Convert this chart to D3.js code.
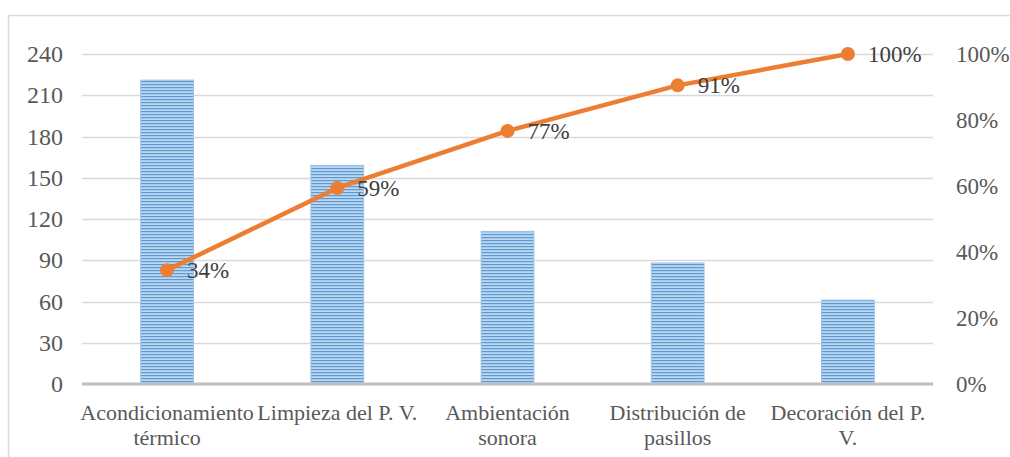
<!DOCTYPE html>
<html>
<head>
<meta charset="utf-8">
<script src="https://cdn.jsdelivr.net/npm/d3@7"></script>
<style>
  html, body { margin: 0; padding: 0; background: #fff; }
  svg { display: block; }
</style>
</head>
<body>
<svg id="chart" width="1010" height="457"></svg>
<script>
// Pareto data: frequency per category and cumulative share
const categories = [
  ["Acondicionamiento", "térmico"],
  ["Limpieza del P. V."],
  ["Ambientación", "sonora"],
  ["Distribución de", "pasillos"],
  ["Decoración del P.", "V."]
];
const frequencies = [221, 159, 111, 88, 61];
const cumulativePct = [0.345, 0.594, 0.767, 0.905, 1.0];
const cumulativeLabels = ["34%", "59%", "77%", "91%", "100%"];
const leftTicks = [0, 30, 60, 90, 120, 150, 180, 210, 240];
const rightTicks = [0, 0.2, 0.4, 0.6, 0.8, 1.0];

const svg = d3.select("#chart");
const font = "'Liberation Serif', 'Times New Roman', serif";
const leftSize = 24;
const numSize = 23;
const catSize = 22;

const plot = { left: 82, right: 933, top: 54, bottom: 384 };

// outer frame
svg.append("path")
  .attr("d", `M8.5,457 V15.5 H1010`)
  .attr("fill", "none")
  .attr("stroke", "#d9d9d9")
  .attr("stroke-width", 1.5);

// stripe pattern for bars
const defs = svg.append("defs");
const pat = defs.append("pattern")
  .attr("id", "stripes")
  .attr("patternUnits", "userSpaceOnUse")
  .attr("width", 8).attr("height", 3);
pat.append("rect").attr("width", 8).attr("height", 3).attr("fill", "#bdd7ee");
pat.append("rect").attr("y", 0).attr("width", 8).attr("height", 1.2).attr("fill", "#5b9bd5");

const x = d3.scaleBand()
  .domain(d3.range(categories.length))
  .range([plot.left, plot.right])
  .paddingInner(0.69).paddingOuter(0.345);

const yL = d3.scaleLinear().domain([0, 240]).range([plot.bottom, plot.top]);
const yR = d3.scaleLinear().domain([0, 1]).range([plot.bottom, plot.top]);

// gridlines
svg.append("g")
  .selectAll("line")
  .data(leftTicks.filter(t => t > 0))
  .join("line")
  .attr("x1", plot.left).attr("x2", plot.right)
  .attr("y1", d => Math.round(yL(d)) + 0.5).attr("y2", d => Math.round(yL(d)) + 0.5)
  .attr("stroke", "#d9d9d9").attr("stroke-width", 1.5);

// bars
svg.append("g")
  .selectAll("rect")
  .data(frequencies)
  .join("rect")
  .attr("x", (d, i) => x(i))
  .attr("width", x.bandwidth())
  .attr("y", d => yL(d))
  .attr("height", d => yL(0) - yL(d))
  .attr("fill", "url(#stripes)")
  .attr("stroke", "#9dc3e6")
  .attr("stroke-width", 1);

// base axis line
svg.append("line")
  .attr("x1", plot.left).attr("x2", plot.right)
  .attr("y1", yL(0)).attr("y2", yL(0))
  .attr("stroke", "#bfbfbf").attr("stroke-width", 3);

// left axis
const leftAxis = svg.append("g")
  .attr("transform", `translate(${plot.left - 19},0)`)
  .call(d3.axisLeft(yL).tickValues(leftTicks).tickSize(0).tickPadding(0));
leftAxis.select(".domain").remove();
leftAxis.selectAll("text")
  .attr("font-family", font).attr("font-size", leftSize)
  .attr("fill", "#595959");

// right axis
const rightAxis = svg.append("g")
  .attr("transform", `translate(${plot.right + 23},0)`)
  .call(d3.axisRight(yR).tickValues(rightTicks).tickFormat(d3.format(".0%")).tickSize(0).tickPadding(0));
rightAxis.select(".domain").remove();
rightAxis.selectAll("text")
  .attr("font-family", font).attr("font-size", numSize)
  .attr("fill", "#595959");

// category labels
const catG = svg.append("g");
categories.forEach((lines, i) => {
  const t = catG.append("text")
    .attr("x", x(i) + x.bandwidth() / 2)
    .attr("y", 420)
    .attr("text-anchor", "middle")
    .attr("font-family", font).attr("font-size", catSize)
    .attr("fill", "#595959");
  lines.forEach((ln, j) => {
    t.append("tspan")
      .attr("x", x(i) + x.bandwidth() / 2)
      .attr("dy", j === 0 ? 0 : 24.5)
      .text(ln);
  });
});

// cumulative line
const cx = i => x(i) + x.bandwidth() / 2;
svg.append("path")
  .datum(cumulativePct)
  .attr("d", d3.line().x((d, i) => cx(i)).y(d => yR(d)))
  .attr("fill", "none")
  .attr("stroke", "#ed7d31")
  .attr("stroke-width", 4.5)
  .attr("stroke-linejoin", "round");

svg.append("g")
  .selectAll("circle")
  .data(cumulativePct)
  .join("circle")
  .attr("cx", (d, i) => cx(i))
  .attr("cy", d => yR(d))
  .attr("r", 7)
  .attr("fill", "#ed7d31");

// data labels
svg.append("g")
  .selectAll("text")
  .data(cumulativePct)
  .join("text")
  .attr("x", (d, i) => cx(i) + 20)
  .attr("y", d => yR(d))
  .attr("dy", "0.35em")
  .attr("font-family", font).attr("font-size", numSize)
  .attr("fill", "#404040")
  .text((d, i) => cumulativeLabels[i]);
</script>
</body>
</html>
